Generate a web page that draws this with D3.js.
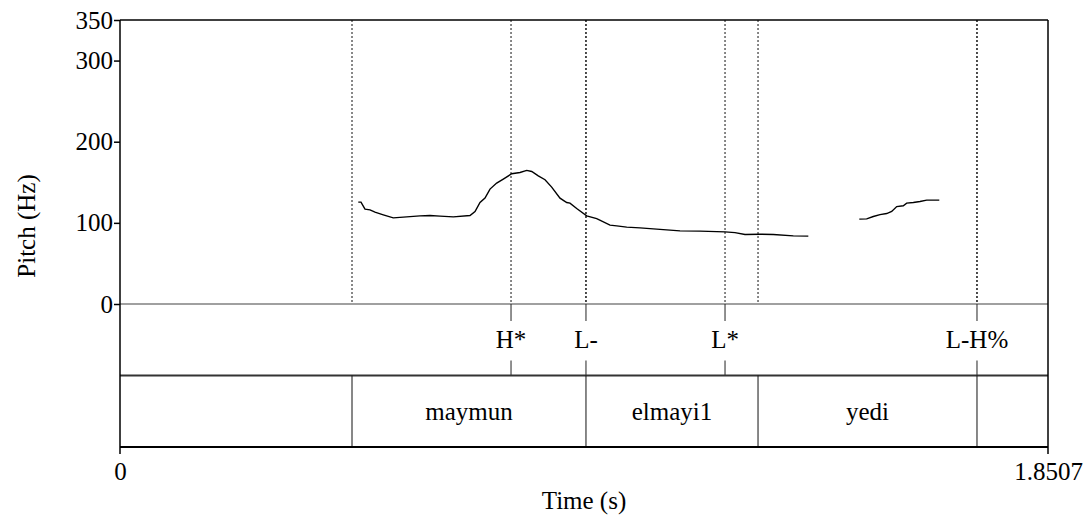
<!DOCTYPE html>
<html>
<head>
<meta charset="utf-8">
<script src="https://cdn.jsdelivr.net/npm/d3@7"></script>
<style>
  body { margin: 0; background: #fff; }
  svg { font-family: "Liberation Serif", "Times New Roman", serif; }
</style>
</head>
<body>
<svg width="1087" height="522"></svg>
<script>
// pitch track (two voiced stretches), time in s, f0 in Hz
var seg1Time = [0.4752, 0.4806, 0.4886, 0.4986, 0.5085, 0.5251, 0.5450, 0.5718, 0.5983, 0.6182,
  0.6382, 0.6647, 0.6980, 0.7080, 0.7180, 0.7279, 0.7379, 0.7512, 0.7644, 0.7812,
  0.7977, 0.8111, 0.8211, 0.8342, 0.8476, 0.8609, 0.8775, 0.8909, 0.8974, 0.9108,
  0.9307, 0.9507, 0.9772, 0.9906, 1.0105, 1.0370, 1.0636, 1.1168, 1.1567, 1.2065,
  1.2265, 1.2464, 1.2764, 1.3029, 1.3428, 1.3727];
var seg1Hz = [125.6, 125.6, 116.9, 116.0, 113.2, 109.9, 106.2, 107.4, 108.6, 109.0,
  108.3, 107.4, 109.0, 114.0, 125.1, 130.5, 141.6, 149.0, 154.0, 160.5,
  162.1, 164.6, 163.3, 158.0, 153.1, 144.1, 130.5, 125.1, 124.3, 117.7,
  108.6, 105.3, 97.2, 96.3, 94.7, 93.8, 92.6, 90.1, 89.8, 88.9,
  88.0, 85.6, 86.0, 85.6, 84.0, 83.6];
var seg2Time = [1.4744, 1.4891, 1.5023, 1.5157, 1.5290, 1.5390, 1.5490, 1.5621, 1.5689, 1.5821,
  1.5954, 1.6088, 1.6339];
var seg2Hz = [104.6, 104.9, 107.8, 110.2, 111.5, 114.0, 120.1, 121.0, 124.3, 125.1,
  126.3, 128.0, 128.0];

// tone tier (points)
var toneTimes = [0.7798, 0.9293, 1.2066, 1.7091];
var toneLabels = ["H*", "L-", "L*", "L-H%"];

// word tier (intervals)
var wordBounds = [0, 0.4627, 0.9293, 1.2724, 1.7091, 1.8507];
var wordLabels = ["", "maymun", "elmayi1", "yedi", ""];

var yTicks = [0, 100, 200, 300, 350];
var tMax = 1.8507;

var svg = d3.select("svg");
var fs = "25px";
var pL = 120, pR = 1048, pT = 20, zeroY = 304, tierH = 71.5;
var tier1Bottom = zeroY + tierH, tier2Bottom = tier1Bottom + tierH;

var x = d3.scaleLinear().domain([0, tMax]).range([pL, pR]);
var y = d3.scaleLinear().domain([0, 350]).range([zeroY, pT]);

// dotted boundary lines in the pitch pane
var allBounds = toneTimes.concat(wordBounds.slice(1, -1));
svg.selectAll(".dot")
  .data(allBounds)
  .enter()
  .append("line")
  .attr("x1", (d) => x(d))
  .attr("x2", (d) => x(d))
  .attr("y1", pT)
  .attr("y2", zeroY)
  .attr("stroke", "#111")
  .attr("stroke-width", 1)
  .attr("stroke-dasharray", "2,2");

// pitch curve
var line = d3.line().x((d) => x(d[0])).y((d) => y(d[1]));
[[seg1Time, seg1Hz], [seg2Time, seg2Hz]].forEach(function (s) {
  svg.append("path")
    .attr("d", line(d3.zip(s[0], s[1])))
    .attr("fill", "none")
    .attr("stroke", "#000")
    .attr("stroke-width", 1.4);
});

// zero line / top of tiers
svg.append("line")
  .attr("x1", pL).attr("x2", pR)
  .attr("y1", zeroY).attr("y2", zeroY)
  .attr("stroke", "#808080").attr("stroke-width", 1.5);

// tone tier
toneTimes.forEach(function (t, i) {
  svg.append("line")
    .attr("x1", x(t)).attr("x2", x(t))
    .attr("y1", zeroY).attr("y2", zeroY + 17)
    .attr("stroke", "#222").attr("stroke-width", 1);
  svg.append("line")
    .attr("x1", x(t)).attr("x2", x(t))
    .attr("y1", tier1Bottom - 15).attr("y2", tier1Bottom)
    .attr("stroke", "#222").attr("stroke-width", 1);
  svg.append("text")
    .attr("x", x(t)).attr("y", 348)
    .attr("text-anchor", "middle")
    .attr("font-size", fs)
    .text(toneLabels[i]);
});

svg.append("line")
  .attr("x1", pL).attr("x2", pR)
  .attr("y1", tier1Bottom).attr("y2", tier1Bottom)
  .attr("stroke", "#333").attr("stroke-width", 1.8);

// word tier
svg.selectAll(".wb")
  .data(wordBounds.slice(1, -1))
  .enter()
  .append("line")
  .attr("x1", (d) => x(d)).attr("x2", (d) => x(d))
  .attr("y1", tier1Bottom).attr("y2", tier2Bottom)
  .attr("stroke", "#111").attr("stroke-width", 1);

svg.selectAll(".wl")
  .data(wordLabels)
  .enter()
  .append("text")
  .attr("x", (d, i) => (x(wordBounds[i]) + x(wordBounds[i + 1])) / 2)
  .attr("y", 420)
  .attr("text-anchor", "middle")
  .attr("font-size", fs)
  .text((d) => d);

// frame
svg.append("line").attr("x1", pL).attr("x2", pR).attr("y1", pT).attr("y2", pT)
  .attr("stroke", "#000").attr("stroke-width", 1.5);
svg.append("line").attr("x1", pL).attr("x2", pR).attr("y1", tier2Bottom).attr("y2", tier2Bottom)
  .attr("stroke", "#000").attr("stroke-width", 2);
svg.append("line").attr("x1", pL).attr("x2", pL).attr("y1", pT).attr("y2", tier2Bottom + 7)
  .attr("stroke", "#000").attr("stroke-width", 1.5);
svg.append("line").attr("x1", pR).attr("x2", pR).attr("y1", pT).attr("y2", tier2Bottom + 7)
  .attr("stroke", "#000").attr("stroke-width", 1.5);

// y axis
var yAxis = d3.axisLeft(y).tickValues(yTicks).tickSize(6).tickPadding(1).tickFormat(d3.format("d"));
var gy = svg.append("g").attr("transform", "translate(" + pL + ",0)").call(yAxis);
gy.select(".domain").remove();
gy.selectAll("line").attr("stroke", "#000").attr("stroke-width", 1.5);
gy.selectAll("text").attr("font-size", fs).attr("font-family", "Liberation Serif").attr("fill", "#000");

// time labels
var xAxis = d3.axisBottom(x).tickValues([0, tMax]).tickSize(0).tickPadding(0)
  .tickFormat((d) => (d === 0 ? "0" : d3.format(".4f")(d)));
var gx = svg.append("g").attr("transform", "translate(0," + tier2Bottom + ")").call(xAxis);
gx.select(".domain").remove();
gx.selectAll("text").attr("dy", null).attr("y", 33)
  .attr("font-size", fs).attr("font-family", "Liberation Serif").attr("fill", "#000");

svg.append("text").attr("x", (pL + pR) / 2).attr("y", 509).attr("text-anchor", "middle")
  .attr("font-size", fs).text("Time (s)");

svg.append("text")
  .attr("transform", "translate(35,226) rotate(-90)")
  .attr("text-anchor", "middle")
  .attr("font-size", fs)
  .text("Pitch (Hz)");
</script>
</body>
</html>
